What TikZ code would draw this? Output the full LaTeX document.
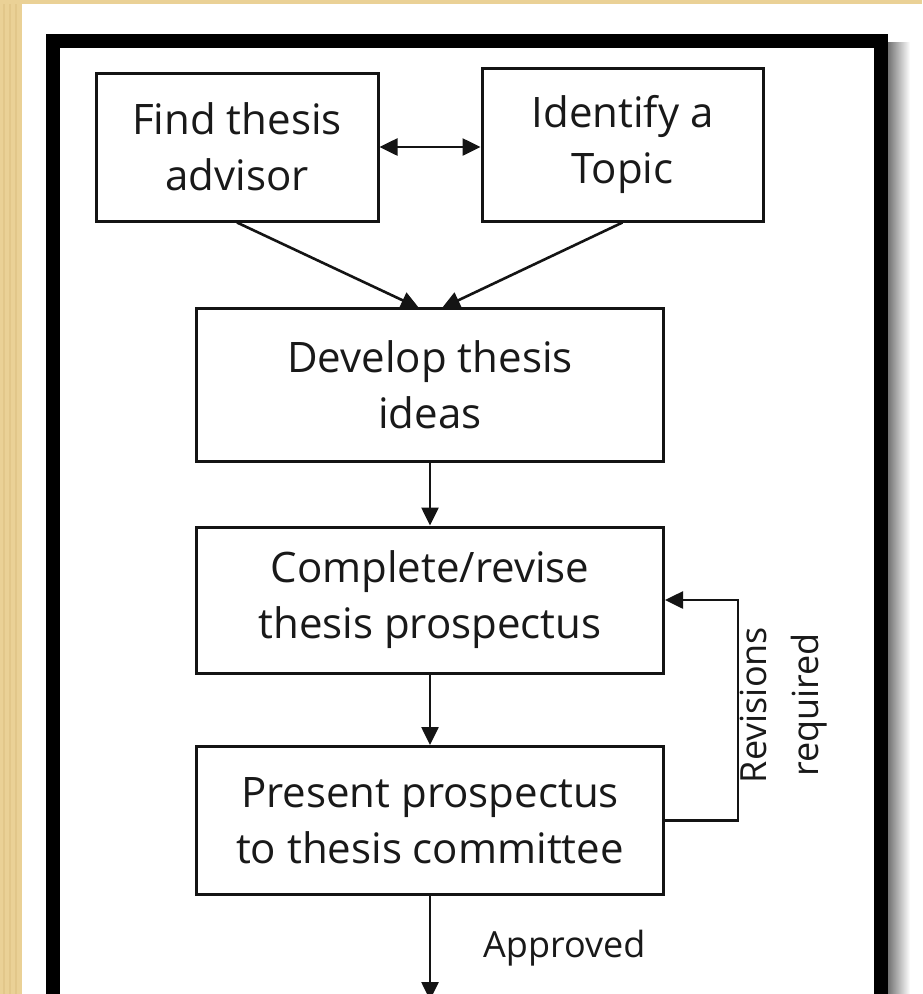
\documentclass[tikz,border=0pt]{standalone}
\usepackage{fontspec}
\setmainfont{Open Sans}
\usetikzlibrary{arrows.meta}
\definecolor{parch}{RGB}{234,209,150}
\definecolor{parchdk}{RGB}{226,199,138}
\definecolor{ink}{RGB}{20,20,20}
\tikzset{
  stepbox/.style={draw=ink, line width=3pt, fill=white, align=center,
    font=\fontsize{42}{56}\selectfont, text=black!90, inner sep=0pt},
  arr/.style={draw=ink, line width=2.6pt, -{Triangle[length=18pt,width=17pt]}},
  darr/.style={draw=ink, line width=2.6pt, {Triangle[length=18pt,width=17pt]}-{Triangle[length=18pt,width=17pt]}},
  lbl/.style={font=\fontsize{36}{52}\selectfont, text=black!90, align=center, inner sep=0pt}
}
\begin{document}
\begin{tikzpicture}[x=1pt,y=-1pt]
\useasboundingbox (0,0) rectangle (922,994);
% background
\fill[white] (0,0) rectangle (922,994);
\fill[parch] (0,0) rectangle (922,4);
\fill[parch] (0,0) rectangle (22,994);
\foreach \xx in {3,9,15}{
  \fill[parchdk] (\xx,4) rectangle (\xx+2,994);
}
% shadow of frame
\shade[left color=black!55, right color=white] (888,42) rectangle (910,994);
% frame
\draw[black, line width=14pt] (53,41) -- (881,41) -- (881,1010);
\draw[black, line width=14pt] (53,34) -- (53,1010);
% boxes
\node[stepbox, minimum width=282pt, minimum height=148pt] (b1) at (237,147) {Find thesis\\advisor};
\node[stepbox, minimum width=281pt, minimum height=153pt] (b2) at (622.5,144.5) {Identify a\\Topic};
\node[stepbox, minimum width=467pt, minimum height=153pt] (b3) at (430,385) {Develop thesis\\ideas};
\node[stepbox, minimum width=467pt, minimum height=146pt] (b4) at (430,600) {Complete/revise\\thesis prospectus};
\node[stepbox, minimum width=467pt, minimum height=148pt] (b5) at (430,820.5) {Present prospectus\\to thesis committee};
% connectors
\coordinate (t1) at (419,308);
\coordinate (t2) at (442,308);
\coordinate (rev) at (738,600);
\coordinate (fin) at (430,1000);
\draw[darr] (b1.east |- 0,147) -- (b2.west |- 0,147);
\draw[arr] (b1.south) -- (t1);
\draw[arr] (b2.south) -- (t2);
\draw[arr] (b3.south) -- (b4.north);
\draw[arr] (b4.south) -- (b5.north);
\draw[arr] (b5.east) -| (rev) -- (b4.east);
\draw[arr] (b5.south) -- (fin);
% labels
\node[lbl, rotate=90] (lr) at (784,705) {Revisions\\required};
\node[lbl, anchor=west] (la) at (483,948) {Approved};
\end{tikzpicture}
\end{document}
